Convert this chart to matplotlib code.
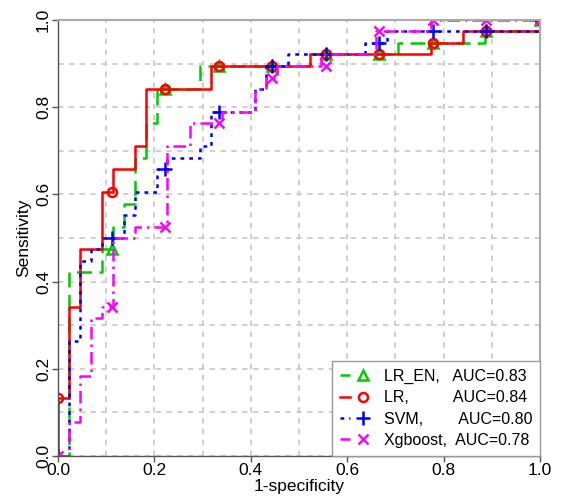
import matplotlib
matplotlib.use("Agg")
from matplotlib import pyplot as plt
from matplotlib.legend_handler import HandlerTuple
import numpy as np

plt.rcParams["font.family"] = ["Liberation Sans", "DejaVu Sans"]

# ROC step curves (1-specificity, sensitivity)
lr_en_fpr = [0, 0.023, 0.023, 0.091, 0.091, 0.114, 0.114, 0.136, 0.136, 0.159, 0.159, 0.182, 0.182,
             0.205, 0.205, 0.295, 0.295, 0.523, 0.523, 0.705, 0.705, 0.886, 0.886, 1.0, 1.0]
lr_en_tpr = [0, 0, 0.421, 0.421, 0.474, 0.474, 0.526, 0.526, 0.579, 0.579, 0.684, 0.684, 0.763,
             0.763, 0.842, 0.842, 0.895, 0.895, 0.921, 0.921, 0.947, 0.947, 0.974, 0.974, 1.0]

lr_fpr = [0, 0, 0.023, 0.023, 0.045, 0.045, 0.091, 0.091, 0.114, 0.114, 0.159, 0.159, 0.182, 0.182,
          0.318, 0.318, 0.523, 0.523, 0.773, 0.773, 0.841, 0.841, 1.0, 1.0]
lr_tpr = [0, 0.132, 0.132, 0.342, 0.342, 0.474, 0.474, 0.605, 0.605, 0.658, 0.658, 0.711, 0.711,
          0.842, 0.842, 0.895, 0.895, 0.921, 0.921, 0.947, 0.947, 0.974, 0.974, 1.0]

svm_fpr = [0, 0.023, 0.023, 0.045, 0.045, 0.068, 0.068, 0.091, 0.091, 0.136, 0.136, 0.159, 0.159,
           0.205, 0.205, 0.227, 0.227, 0.295, 0.295, 0.318, 0.318, 0.409, 0.409, 0.432, 0.432,
           0.477, 0.477, 0.636, 0.636, 0.682, 0.682, 1.0, 1.0]
svm_tpr = [0, 0, 0.263, 0.263, 0.447, 0.447, 0.474, 0.474, 0.5, 0.5, 0.553, 0.553, 0.605,
           0.605, 0.658, 0.658, 0.684, 0.684, 0.711, 0.711, 0.789, 0.789, 0.842, 0.842, 0.895,
           0.895, 0.921, 0.921, 0.947, 0.947, 0.974, 0.974, 1.0]

xgb_fpr = [0, 0.023, 0.023, 0.045, 0.045, 0.068, 0.068, 0.091, 0.091, 0.114, 0.114, 0.159, 0.159,
           0.227, 0.227, 0.273, 0.273, 0.341, 0.341, 0.409, 0.409, 0.432, 0.432, 0.455, 0.455,
           0.545, 0.545, 0.659, 0.659, 0.773, 0.773, 1.0]
xgb_tpr = [0, 0, 0.079, 0.079, 0.184, 0.184, 0.316, 0.316, 0.342, 0.342, 0.5, 0.5, 0.526,
           0.526, 0.711, 0.711, 0.763, 0.763, 0.789, 0.789, 0.842, 0.842, 0.868, 0.868, 0.895,
           0.895, 0.921, 0.921, 0.974, 0.974, 1.0, 1.0]

# marker points
mark_x = [0, 0.111, 0.222, 0.333, 0.444, 0.556, 0.667, 0.778, 0.889, 1.0]
lr_en_mark = [0, 0.474, 0.842, 0.895, 0.895, 0.921, 0.921, 0.947, 0.974, 1.0]
lr_mark = [0.132, 0.605, 0.842, 0.895, 0.895, 0.921, 0.921, 0.947, 0.974, 1.0]
svm_mark = [0, 0.5, 0.658, 0.789, 0.895, 0.921, 0.947, 0.974, 0.974, 1.0]
xgb_mark = [0, 0.342, 0.526, 0.763, 0.868, 0.895, 0.974, 1.0, 1.0, 1.0]

labels = ["LR_EN,   AUC=0.83", "LR,          AUC=0.84", "SVM,        AUC=0.80", "Xgboost,  AUC=0.78"]

fig = plt.figure(figsize=(5.61, 4.98), dpi=100)
ax = fig.add_axes([58 / 561, 1 - 456 / 498, 482 / 561, 436 / 498])

series = [
    (lr_en_fpr, lr_en_tpr, lr_en_mark, "#00CD00", (0, (6, 3)), "^", 7, "none"),
    (lr_fpr, lr_tpr, lr_mark, "#FF0000", "-", "o", 6.5, "none"),
    (svm_fpr, svm_tpr, svm_mark, "#0000FF", (0, (1.5, 2)), "+", 10, "#0000FF"),
    (xgb_fpr, xgb_tpr, xgb_mark, "#FF00FF", (0, (5, 2, 1, 2)), "x", 7, "#FF00FF"),
]
handles = []
for fx, ty, my, col, ls, mk, ms, fc in series:
    ln, = ax.plot(fx, ty, color=col, ls=ls, lw=1.8)
    pt, = ax.plot(mark_x, my, ls="none", marker=mk, ms=ms, mec=col, mfc=fc, mew=1.8)
    handles.append((ln, pt))

ax.set_xlim(0, 1)
ax.set_ylim(0, 1)
ax.set_xticks(np.arange(0, 1.01, 0.2))
ax.set_yticks(np.arange(0, 1.01, 0.2))
ax.set_xticks(np.arange(0, 1.01, 0.1), minor=True)
ax.set_yticks(np.arange(0, 1.01, 0.1), minor=True)
ax.grid(which="both", color="#cccccc", ls=(0, (3, 3)), lw=1.3)
ax.set_axisbelow(True)
ax.tick_params(which="minor", length=0)
ax.tick_params(which="major", length=4, width=1, color="#555555", labelsize=12.5, pad=1)
ax.set_xticklabels(["0.0", "0.2", "0.4", "0.6", "0.8", "1.0"])
ax.set_yticklabels(["0.0", "0.2", "0.4", "0.6", "0.8", "1.0"], rotation=90, va="center")

for s in ["left", "bottom"]:
    ax.spines[s].set_color("#555555")
    ax.spines[s].set_linewidth(1)
for s in ["top", "right"]:
    ax.spines[s].set_color("#aaaaaa")
    ax.spines[s].set_linewidth(1.5)

ax.set_xlabel("1-specificity", fontsize=12.5)
ax.set_ylabel("Sensitivity", fontsize=12.5)
ax.xaxis.set_label_coords(0.5, -0.052)
ax.yaxis.set_label_coords(-0.056, 0.5)

leg = ax.legend(handles, labels, handler_map={tuple: HandlerTuple(ndivide=None)},
                loc="lower right", bbox_to_anchor=(1, 0), borderaxespad=0,
                fontsize=11.5, handlelength=1.7, handletextpad=1.0, labelspacing=0.4,
                borderpad=0.5, fancybox=False, framealpha=1, edgecolor="#999999")
leg.get_frame().set_linewidth(1)

fig.savefig("out.png", dpi=100)
